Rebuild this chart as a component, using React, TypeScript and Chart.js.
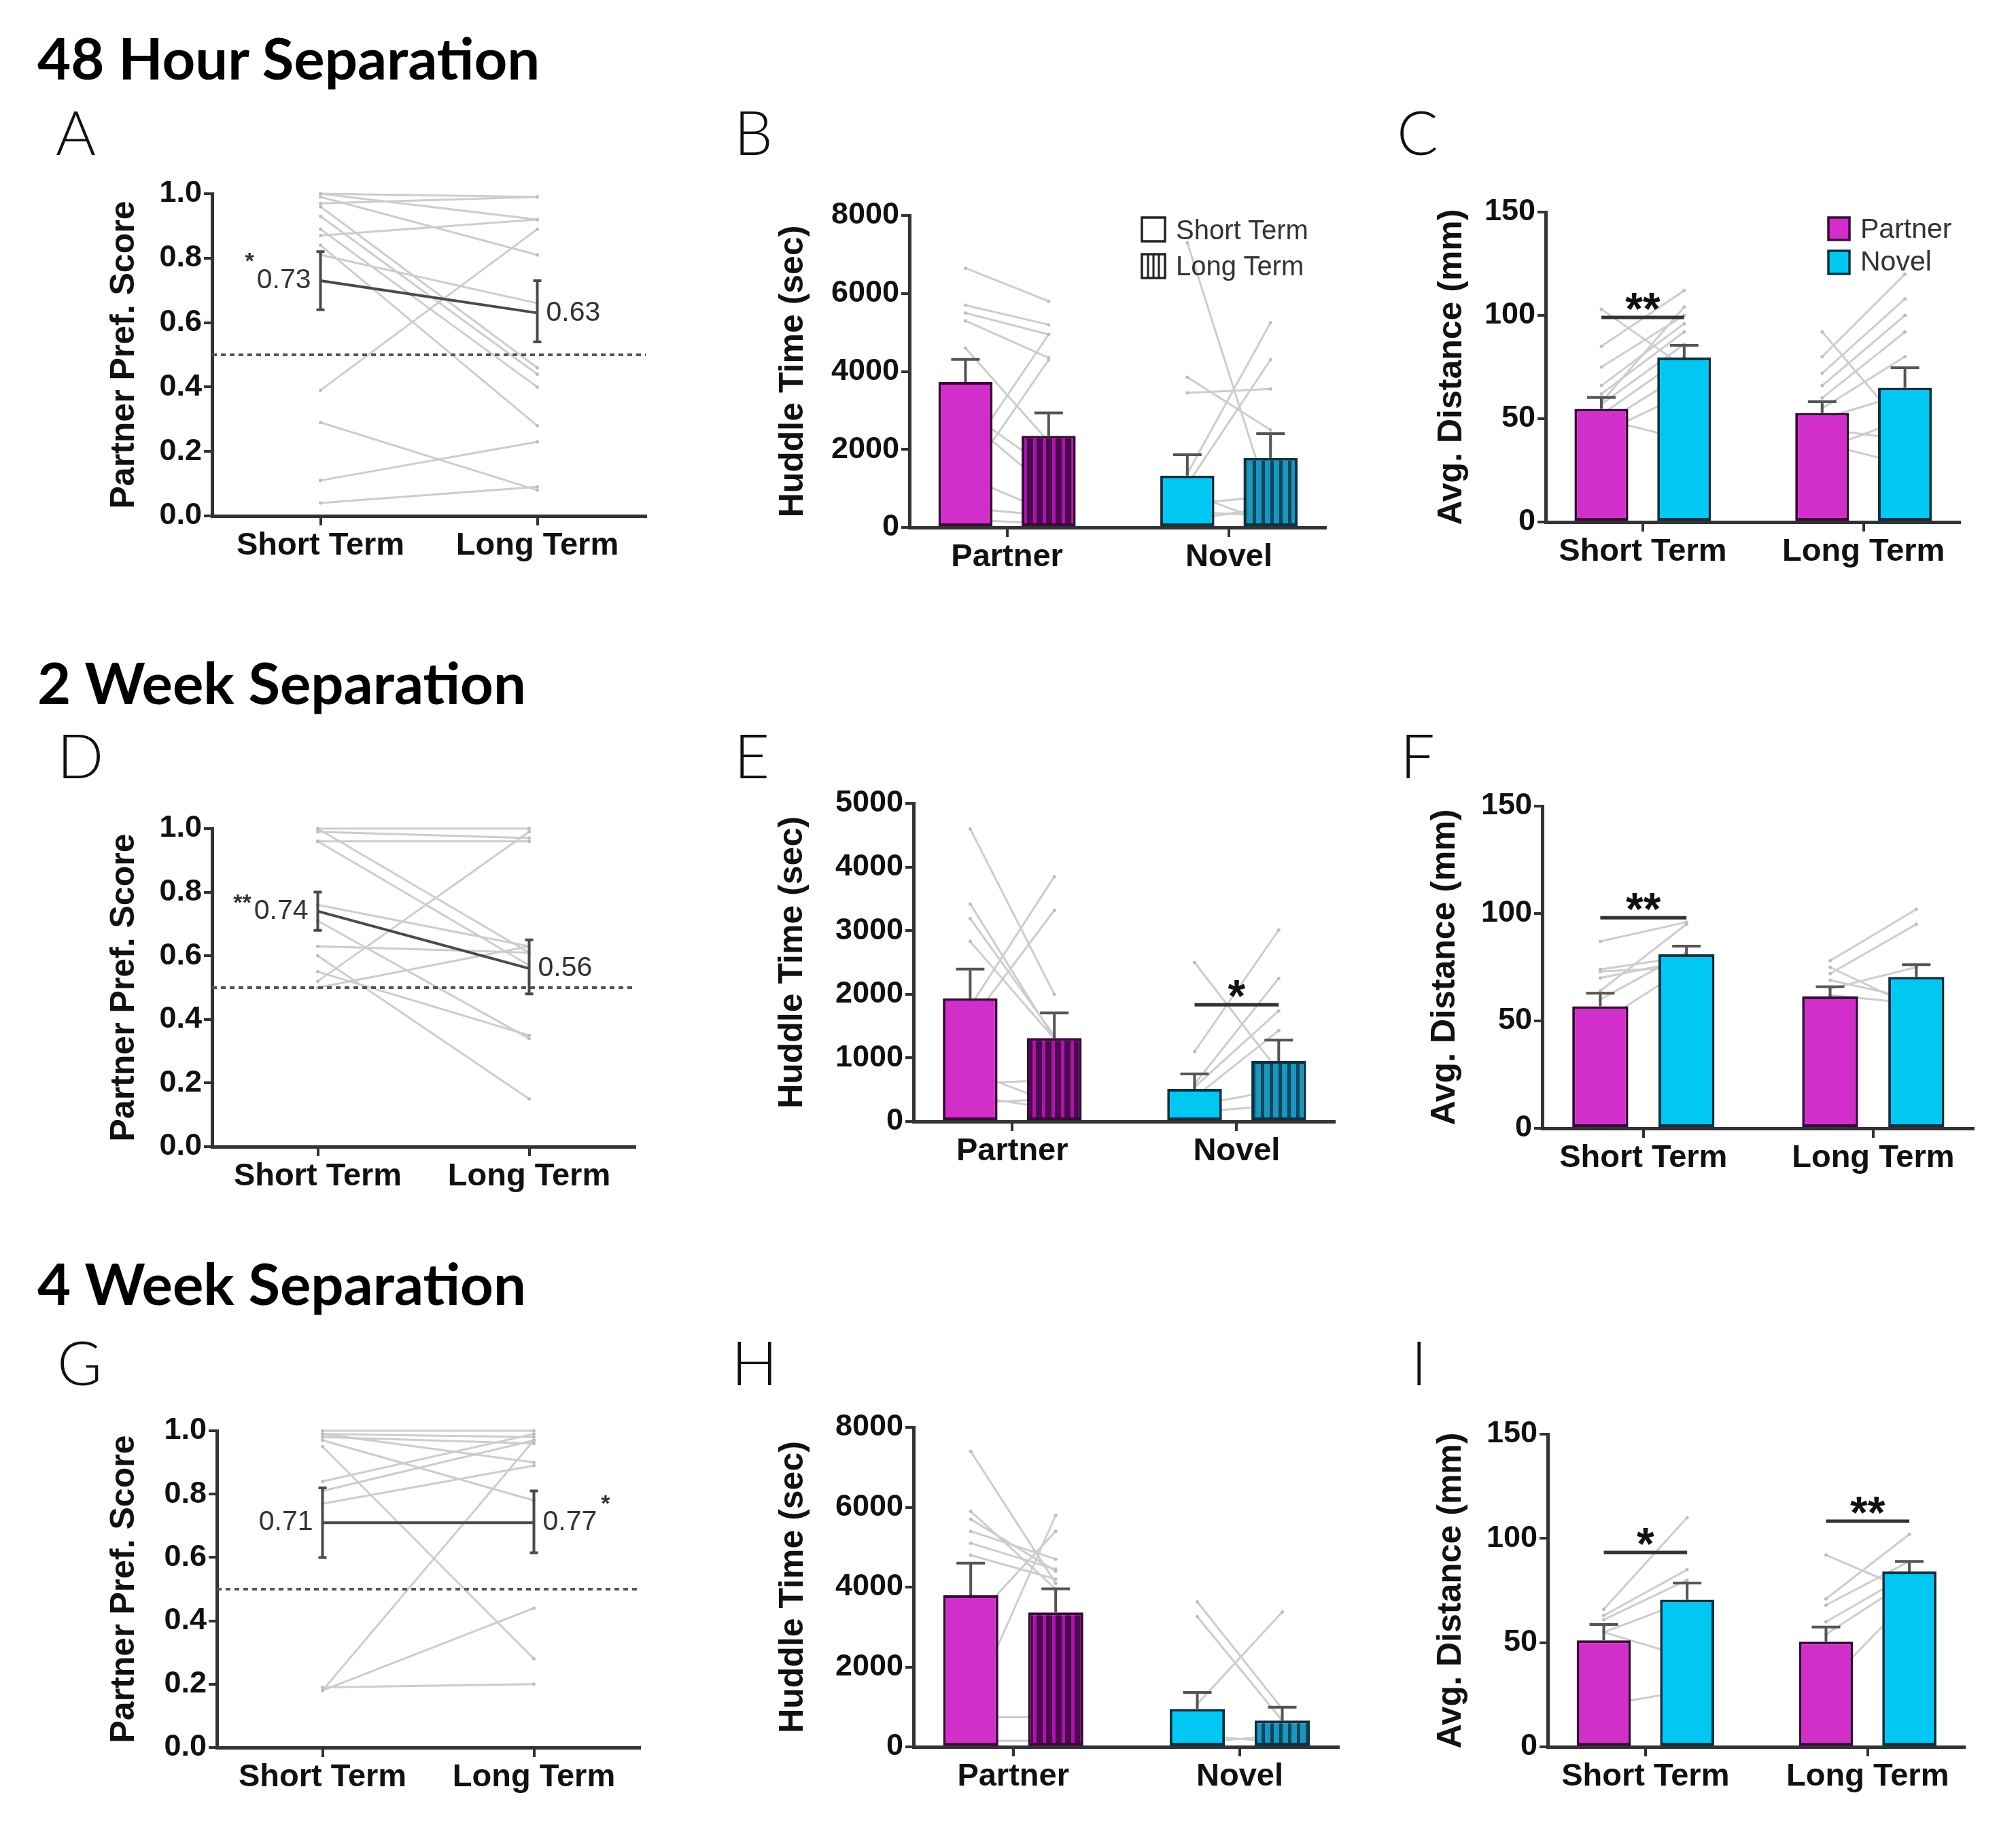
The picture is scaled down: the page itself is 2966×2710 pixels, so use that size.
import React, { useEffect, useRef } from 'react';
import { Chart, registerables } from 'chart.js';

Chart.register(...registerables);

// ---------------- text / categories ----------------
const sectionTitles = ['48 Hour Separation', '2 Week Separation', '4 Week Separation'];
const panelLetters = ['A', 'B', 'C', 'D', 'E', 'F', 'G', 'H', 'I'];
const termLabels = ['Short Term', 'Long Term'];
const stimLabels = ['Partner', 'Novel'];
const ppTitle = 'Partner Pref. Score';
const huddleTitle = 'Huddle Time (sec)';
const distTitle = 'Avg. Distance (mm)';

// ---------------- Panel A (48 h, partner preference) ----------------
const aShort = [1.0, 1.0, 0.99, 0.97, 0.93, 0.89, 0.87, 0.84, 0.81, 0.96, 0.39, 0.29, 0.11, 0.04];
const aLong = [0.99, 0.92, 0.81, 0.99, 0.44, 0.4, 0.92, 0.28, 0.66, 0.46, 0.89, 0.08, 0.23, 0.09];
const aMean = [0.73, 0.63];
const aLow = [0.64, 0.54];
const aHigh = [0.82, 0.73];
const aText = ['0.73', '0.63'];

// ---------------- Panel D (2 wk, partner preference) ----------------
const dShort = [1.0, 0.99, 0.96, 1.0, 0.96, 0.76, 0.71, 0.63, 0.6, 0.52, 0.5, 0.55];
const dLong = [1.0, 0.97, 0.96, 0.61, 0.57, 0.63, 0.34, 0.61, 0.15, 0.99, 0.63, 0.35];
const dMean = [0.74, 0.56];
const dLow = [0.68, 0.48];
const dHigh = [0.8, 0.65];
const dText = ['0.74', '0.56'];

// ---------------- Panel G (4 wk, partner preference) ----------------
const gShort = [1.0, 0.99, 0.98, 0.97, 0.95, 0.99, 0.84, 0.81, 0.77, 0.18, 0.18, 0.19];
const gLong = [1.0, 0.98, 0.96, 0.78, 0.28, 0.9, 0.99, 0.97, 0.89, 0.97, 0.44, 0.2];
const gMean = [0.71, 0.71];
const gLow = [0.6, 0.615];
const gHigh = [0.82, 0.81];
const gText = ['0.71', '0.77'];

// ---------------- Panel B (48 h huddle) : [Partner, Novel] ----------------
const bShortMean = [3730, 1330];
const bLongMean = [2350, 1780];
const bShortTop = [4310, 1865];
const bLongTop = [2935, 2405];
const bPartnerShort = [6650, 5700, 5500, 5300, 4600, 1800, 1200, 2800, 1300, 500, 3000, 200];
const bPartnerLong = [5800, 5200, 4950, 4350, 2200, 4950, 4300, 1000, 400, 300, 1500, 100];
const bNovelShort = [7300, 3850, 3450, 1380, 1100, 600, 400, 200, 900];
const bNovelLong = [600, 2500, 3550, 5250, 4300, 800, 300, 500, 100];

// ---------------- Panel C (48 h distance) : [Short, Long] ----------------
const cPartnerMean = [54.8, 52.8];
const cNovelMean = [79.6, 65.0];
const cPartnerTop = [60.3, 58.2];
const cNovelTop = [85.5, 74.7];
const cShortPartner = [103, 85, 75, 66, 62, 57, 52, 47, 43, 50, 58];
const cShortNovel = [75, 112, 100, 96, 92, 86, 80, 72, 62, 40, 104];
const cLongPartner = [92, 80, 72, 66, 60, 55, 50, 45, 38, 35];
const cLongNovel = [45, 120, 108, 100, 92, 80, 62, 40, 28, 50];

// ---------------- Panel E (2 wk huddle) ----------------
const eShortMean = [1937, 512];
const eLongMean = [1312, 950];
const eShortTop = [2395, 747];
const eLongTop = [1707, 1280];
const ePartnerShort = [4600, 3420, 3190, 2830, 1810, 1560, 790, 600, 400, 300];
const ePartnerLong = [2000, 1300, 1350, 1300, 3850, 3320, 280, 650, 200, 350];
const eNovelShort = [2500, 1100, 590, 540, 380, 250, 150];
const eNovelLong = [790, 3010, 2250, 1740, 1430, 500, 250];

// ---------------- Panel F (2 wk distance) ----------------
const fPartnerMean = [56.8, 61.4];
const fNovelMean = [81.0, 70.5];
const fPartnerTop = [62.9, 65.9];
const fNovelTop = [84.8, 76.2];
const fShortPartner = [87, 74, 73, 70, 64, 60, 49];
const fShortNovel = [96, 80, 75, 78, 95, 82, 75];
const fLongPartner = [78, 72, 69, 65, 62, 75];
const fLongNovel = [102, 95, 60, 75, 58, 56];

// ---------------- Panel H (4 wk huddle) ----------------
const hShortMean = [3794, 948];
const hLongMean = [3365, 660];
const hShortTop = [4602, 1361];
const hLongTop = [3959, 990];
const hPartnerShort = [7400, 5900, 5700, 5400, 5100, 4800, 1000, 3100, 740, 150];
const hPartnerLong = [4100, 3950, 4400, 4700, 4450, 4200, 5800, 5400, 740, 150];
const hNovelShort = [3630, 3260, 1070, 300, 100];
const hNovelLong = [950, 660, 3380, 100, 300];

// ---------------- Panel I (4 wk distance) ----------------
const iPartnerMean = [51.1, 50.5];
const iNovelMean = [70.6, 84.1];
const iPartnerTop = [58.7, 57.5];
const iNovelTop = [78.6, 88.9];
const iShortPartner = [66, 63, 61, 55, 55, 20];
const iShortNovel = [110, 85, 80, 70, 43, 27];
const iLongPartner = [92, 71, 68, 60, 54, 30];
const iLongNovel = [75, 102, 89, 83, 80, 71];

// significance: [group index, bar height value, marker]
const cSig = [{ g: 0, y: 99, text: '**' }];
const eSig = [{ g: 1, y: 1835, text: '*' }];
const fSig = [{ g: 0, y: 98, text: '**' }];
const iSig = [{ g: 0, y: 93.3, text: '*' }, { g: 1, y: 108.3, text: '**' }];

// ---------------- styles ----------------
const AX_FONT = "'Liberation Sans', Arial, Helvetica, sans-serif";
const HEAD_FONT = "Lato, 'Open Sans', sans-serif";
const MAGENTA = '#d22fca';
const MAGENTA_EDGE = '#3a0838';
const CYAN = '#00c8f2';
const CYAN_EDGE = '#0a3244';
const PURPLE_BASE = '#4e0752';
const PURPLE_STRIPE = '#a817a6';
const TEAL_BASE = '#1d95bd';
const TEAL_STRIPE = '#0c4660';
const GRAY_LINE = '#cdcdcd';
const GRAY_DOT = '#bdbdbd';
const AXIS = '#333333';
const INK = '#111111';

const GROUP_X = [1, 3];
const CAT_PCT = 0.75;
const BAR_PCT = 0.65;
const HALF = CAT_PCT / 2;
const BAR_XMIN = 0.12;
const BAR_XMAX = 3.87;

type Lay = { l: number; t: number; r: number; b: number; ytc: number };
const LAYOUT: Record<string, Lay> = {
  A: { l: 312, t: 285, r: 950, b: 759, ytc: 183 },
  B: { l: 1338, t: 317, r: 1950, b: 776, ytc: 1167 },
  C: { l: 2274, t: 312, r: 2883, b: 768, ytc: 2136 },
  D: { l: 312, t: 1219, r: 934, b: 1687, ytc: 183 },
  E: { l: 1344, t: 1182, r: 1963, b: 1650, ytc: 1166 },
  F: { l: 2269, t: 1186, r: 2903, b: 1660, ytc: 2126 },
  G: { l: 319, t: 2105, r: 941, b: 2571, ytc: 183 },
  H: { l: 1344, t: 2100, r: 1969, b: 2570, ytc: 1167 },
  I: { l: 2277, t: 2110, r: 2890, b: 2570, ytc: 2135 },
};
const TITLE_POS = [
  { x: 55, y: 117 },
  { x: 55, y: 1036 },
  { x: 55, y: 1920 },
];
const LETTER_POS = [
  { x: 82, y: 228 }, { x: 1080, y: 228 }, { x: 2055, y: 228 },
  { x: 84, y: 1145 }, { x: 1080, y: 1145 }, { x: 2060, y: 1145 },
  { x: 84, y: 2038 }, { x: 1076, y: 2038 }, { x: 2076, y: 2038 },
];

function geom(lay: Lay) {
  const left = lay.ytc - 30;
  const top = lay.t - 40;
  return { left, top, w: lay.r + 45 - left, h: lay.b + 110 - top, yW: lay.l - left };
}

function stripePattern(base: string, stripe: string, period: number, sw: number) {
  const c = document.createElement('canvas');
  c.width = period;
  c.height = 8;
  const g = c.getContext('2d') as CanvasRenderingContext2D;
  g.fillStyle = base;
  g.fillRect(0, 0, period, 8);
  g.fillStyle = stripe;
  g.fillRect(Math.round(period / 2 - sw / 2), 0, sw, 8);
  return g.createPattern(c, 'repeat');
}

const annotPlugin = {
  id: 'annot',
  afterDatasetsDraw(chart: any, _args: any, o: any) {
    const ctx = chart.ctx;
    const xs = chart.scales.x;
    const ys = chart.scales.y;
    ctx.save();
    for (const e of o.errors || []) {
      const px = xs.getPixelForValue(e.x);
      const p1 = ys.getPixelForValue(e.lo);
      const p2 = ys.getPixelForValue(e.hi);
      ctx.strokeStyle = e.color || '#555';
      ctx.lineWidth = 4;
      ctx.beginPath();
      ctx.moveTo(px, p1);
      ctx.lineTo(px, p2);
      ctx.moveTo(px - e.cap, p2);
      ctx.lineTo(px + e.cap, p2);
      if (e.capLo) {
        ctx.moveTo(px - e.cap, p1);
        ctx.lineTo(px + e.cap, p1);
      }
      ctx.stroke();
    }
    for (const s of o.sigs || []) {
      const x1 = xs.getPixelForValue(s.x1);
      const x2 = xs.getPixelForValue(s.x2);
      const py = ys.getPixelForValue(s.y);
      ctx.strokeStyle = AXIS;
      ctx.lineWidth = 5;
      ctx.beginPath();
      ctx.moveTo(x1, py);
      ctx.lineTo(x2, py);
      ctx.stroke();
      ctx.font = `bold 66px ${AX_FONT}`;
      ctx.fillStyle = INK;
      ctx.textAlign = 'center';
      ctx.textBaseline = 'alphabetic';
      ctx.fillText(s.text, (x1 + x2) / 2, py + 10);
    }
    for (const t of o.labels || []) {
      const px = xs.getPixelForValue(t.x) + t.dx;
      const py = ys.getPixelForValue(t.y);
      ctx.font = `41px ${AX_FONT}`;
      ctx.fillStyle = '#333';
      ctx.textAlign = t.align;
      ctx.textBaseline = 'middle';
      ctx.fillText(t.text, px, py);
      if (t.star) {
        const w = ctx.measureText(t.text).width;
        ctx.font = `bold 34px ${AX_FONT}`;
        ctx.textBaseline = 'alphabetic';
        if (t.starBefore) {
          ctx.textAlign = 'right';
          ctx.fillText(t.star, t.align === 'right' ? px - w - 4 : px - 4, py + t.starDy);
        } else {
          ctx.textAlign = 'left';
          ctx.fillText(t.star, t.align === 'left' ? px + w + 6 : px + 6, py + t.starDy);
        }
      }
    }
    ctx.restore();
  },
};

function makeScales(lay: Lay, xMin: number, xMax: number, xLabels: string[], yMax: number, yStep: number, yDec: number, yTitle: string) {
  const g = geom(lay);
  return {
    x: {
      type: 'linear',
      min: xMin,
      max: xMax,
      bounds: 'data',
      offset: false,
      afterBuildTicks: (s: any) => {
        s.ticks = GROUP_X.map((v) => ({ value: v }));
      },
      afterFit: (s: any) => {
        s.height = 110;
      },
      ticks: {
        autoSkip: false,
        maxRotation: 0,
        minRotation: 0,
        padding: 2,
        color: INK,
        font: { family: AX_FONT, weight: 'bold', size: 47 },
        callback: (_v: any, i: number) => xLabels[i],
      },
      grid: { display: true, drawOnChartArea: false, drawTicks: true, tickLength: 14, color: AXIS, lineWidth: 4, offset: false },
      border: { display: true, color: AXIS, width: 5 },
    },
    y: {
      type: 'linear',
      min: 0,
      max: yMax,
      bounds: 'data',
      afterFit: (s: any) => {
        s.width = g.yW;
      },
      ticks: {
        stepSize: yStep,
        padding: 3,
        color: INK,
        font: { family: AX_FONT, weight: 'bold', size: 45 },
        callback: (v: any) => Number(v).toFixed(yDec),
      },
      grid: { display: true, drawOnChartArea: false, drawTicks: true, tickLength: 12, color: AXIS, lineWidth: 4 },
      border: { display: true, color: AXIS, width: 5 },
      title: { display: true, text: yTitle, color: INK, padding: 0, font: { family: AX_FONT, weight: 'bold', size: 50 } },
    },
  };
}

function baseOptions(lay: Lay, scales: any, annot: any) {
  return {
    responsive: false,
    maintainAspectRatio: false,
    devicePixelRatio: 1,
    animation: false,
    layout: { padding: { left: 0, top: 40, right: 45, bottom: 0 } },
    scales,
    plugins: { legend: { display: false }, tooltip: { enabled: false }, annot },
  };
}

function linePanel(lay: Lay, short: number[], long: number[], mean: number[], low: number[], high: number[], text: string[], star: any) {
  const datasets: any[] = [
    {
      type: 'line',
      data: GROUP_X.map((x, i) => ({ x, y: mean[i] })),
      borderColor: '#4a4a4a',
      borderWidth: 4,
      pointRadius: 0,
      order: 0,
    },
    {
      type: 'line',
      data: [{ x: 0, y: 0.5 }, { x: 4, y: 0.5 }],
      borderColor: '#555',
      borderWidth: 4,
      borderDash: [7, 6],
      pointRadius: 0,
      order: 1,
    },
  ];
  short.forEach((s, k) =>
    datasets.push({
      type: 'line',
      data: [{ x: GROUP_X[0], y: s }, { x: GROUP_X[1], y: long[k] }],
      borderColor: GRAY_LINE,
      borderWidth: 3,
      pointRadius: 2.5,
      pointBackgroundColor: GRAY_DOT,
      pointBorderWidth: 0,
      order: 2,
      clip: 20,
    })
  );
  const errors = GROUP_X.map((x, i) => ({ x, lo: low[i], hi: high[i], cap: 6, capLo: true, color: '#4a4a4a' }));
  const labels = [
    { x: GROUP_X[0], y: mean[0], text: text[0], align: 'right', dx: -14, ...(star.side === 0 ? star : {}) },
    { x: GROUP_X[1], y: mean[1], text: text[1], align: 'left', dx: 13, ...(star.side === 1 ? star : {}) },
  ];
  return {
    type: 'line',
    data: { datasets },
    options: baseOptions(lay, makeScales(lay, 0, 4, termLabels, 1, 0.2, 1, ppTitle), { errors, labels }),
    plugins: [annotPlugin],
  };
}

function barPanel(p: any) {
  const { lay, xLabels, yMax, yStep, yTitle, s1, s2, pairs, sigs } = p;
  const barDs = (s: any) => ({
    type: 'bar',
    data: GROUP_X.map((x, i) => ({ x, y: s.mean[i] })),
    backgroundColor: s.fill,
    borderColor: s.edge,
    borderWidth: 4,
    borderSkipped: false,
    categoryPercentage: CAT_PCT,
    barPercentage: BAR_PCT,
    order: 0,
  });
  const datasets: any[] = [barDs(s1), barDs(s2)];
  pairs.forEach((pr: number[][], gi: number) => {
    pr[0].forEach((v: number, k: number) =>
      datasets.push({
        type: 'line',
        data: [{ x: GROUP_X[gi] - HALF, y: v }, { x: GROUP_X[gi] + HALF, y: pr[1][k] }],
        borderColor: GRAY_LINE,
        borderWidth: 3,
        pointRadius: 2.5,
        pointBackgroundColor: GRAY_DOT,
        pointBorderWidth: 0,
        order: 1,
        clip: 20,
      })
    );
  });
  const errors: any[] = [];
  GROUP_X.forEach((x, i) => {
    errors.push({ x: x - HALF, lo: s1.mean[i], hi: s1.top[i], cap: 21 });
    errors.push({ x: x + HALF, lo: s2.mean[i], hi: s2.top[i], cap: 21 });
  });
  const sg = (sigs || []).map((s: any) => ({ x1: GROUP_X[s.g] - HALF, x2: GROUP_X[s.g] + HALF, y: s.y, text: s.text }));
  return {
    type: 'bar',
    data: { datasets },
    options: baseOptions(lay, makeScales(lay, BAR_XMIN, BAR_XMAX, xLabels, yMax, yStep, 0, yTitle), { errors, sigs: sg }),
    plugins: [annotPlugin],
  };
}

function huddle(lay: Lay, sMean: number[], lMean: number[], sTop: number[], lTop: number[], pS: number[], pL: number[], nS: number[], nL: number[], yMax: number, yStep: number, sigs: any[]) {
  return () => {
    const purple = stripePattern(PURPLE_BASE, PURPLE_STRIPE, 14, 5);
    const teal = stripePattern(TEAL_BASE, TEAL_STRIPE, 13, 5);
    return barPanel({
      lay,
      xLabels: stimLabels,
      yMax,
      yStep,
      yTitle: huddleTitle,
      s1: { mean: sMean, top: sTop, fill: [MAGENTA, CYAN], edge: [MAGENTA_EDGE, CYAN_EDGE] },
      s2: { mean: lMean, top: lTop, fill: [purple, teal], edge: [MAGENTA_EDGE, CYAN_EDGE] },
      pairs: [[pS, pL], [nS, nL]],
      sigs,
    });
  };
}

function distance(lay: Lay, pMean: number[], nMean: number[], pTop: number[], nTop: number[], sP: number[], sN: number[], lP: number[], lN: number[], sigs: any[]) {
  return () =>
    barPanel({
      lay,
      xLabels: termLabels,
      yMax: 150,
      yStep: 50,
      yTitle: distTitle,
      s1: { mean: pMean, top: pTop, fill: MAGENTA, edge: MAGENTA_EDGE },
      s2: { mean: nMean, top: nTop, fill: CYAN, edge: CYAN_EDGE },
      pairs: [[sP, sN], [lP, lN]],
      sigs,
    });
}

function ChartPanel({ lay, build }: { lay: Lay; build: () => any }) {
  const ref = useRef<HTMLCanvasElement>(null);
  const g = geom(lay);
  useEffect(() => {
    const chart = new Chart(ref.current as HTMLCanvasElement, build());
    return () => chart.destroy();
  }, []);
  return (
    <canvas
      ref={ref}
      width={g.w}
      height={g.h}
      style={{ position: 'absolute', left: g.left, top: g.top, width: g.w, height: g.h }}
    />
  );
}

const panels: { key: string; build: () => any }[] = [
  { key: 'A', build: () => linePanel(LAYOUT.A, aShort, aLong, aMean, aLow, aHigh, aText, { side: 0, star: '*', starBefore: true, starDy: -18 }) },
  { key: 'B', build: huddle(LAYOUT.B, bShortMean, bLongMean, bShortTop, bLongTop, bPartnerShort, bPartnerLong, bNovelShort, bNovelLong, 8000, 2000, []) },
  { key: 'C', build: distance(LAYOUT.C, cPartnerMean, cNovelMean, cPartnerTop, cNovelTop, cShortPartner, cShortNovel, cLongPartner, cLongNovel, cSig) },
  { key: 'D', build: () => linePanel(LAYOUT.D, dShort, dLong, dMean, dLow, dHigh, dText, { side: 0, star: '**', starBefore: true, starDy: -2 }) },
  { key: 'E', build: huddle(LAYOUT.E, eShortMean, eLongMean, eShortTop, eLongTop, ePartnerShort, ePartnerLong, eNovelShort, eNovelLong, 5000, 1000, eSig) },
  { key: 'F', build: distance(LAYOUT.F, fPartnerMean, fNovelMean, fPartnerTop, fNovelTop, fShortPartner, fShortNovel, fLongPartner, fLongNovel, fSig) },
  { key: 'G', build: () => linePanel(LAYOUT.G, gShort, gLong, gMean, gLow, gHigh, gText, { side: 1, star: '*', starBefore: false, starDy: -17 }) },
  { key: 'H', build: huddle(LAYOUT.H, hShortMean, hLongMean, hShortTop, hLongTop, hPartnerShort, hPartnerLong, hNovelShort, hNovelLong, 8000, 2000, []) },
  { key: 'I', build: distance(LAYOUT.I, iPartnerMean, iNovelMean, iPartnerTop, iNovelTop, iShortPartner, iShortNovel, iLongPartner, iLongNovel, iSig) },
];

function Legends() {
  return (
    <g fontFamily={AX_FONT} fontSize={40} fill="#333">
      {/* B legend: term */}
      <rect x={1680} y={320} width={34} height={35} fill="#fff" stroke="#222" strokeWidth={3.5} />
      <text x={1730} y={352}>{termLabels[0]}</text>
      <rect x={1680} y={374} width={34} height={35} fill="#fff" stroke="#222" strokeWidth={3.5} />
      <line x1={1689} y1={374} x2={1689} y2={409} stroke="#222" strokeWidth={3} />
      <line x1={1697} y1={374} x2={1697} y2={409} stroke="#222" strokeWidth={3} />
      <line x1={1705} y1={374} x2={1705} y2={409} stroke="#222" strokeWidth={3} />
      <text x={1730} y={405}>{termLabels[1]}</text>
      {/* C legend: stimulus */}
      <rect x={2690} y={320} width={31} height={33} fill={MAGENTA} stroke={MAGENTA_EDGE} strokeWidth={3.5} />
      <text x={2737} y={350} fontSize={41}>{stimLabels[0]}</text>
      <rect x={2690} y={369} width={31} height={34} fill={CYAN} stroke={CYAN_EDGE} strokeWidth={3.5} />
      <text x={2737} y={398} fontSize={41}>{stimLabels[1]}</text>
    </g>
  );
}

export default function App() {
  return (
    <div style={{ position: 'absolute', left: 0, top: 0, width: 2966, height: 2710, background: '#fff', overflow: 'hidden' }}>
      {panels.map((p) => (
        <ChartPanel key={p.key} lay={LAYOUT[p.key]} build={p.build} />
      ))}
      <svg width={2966} height={2710} style={{ position: 'absolute', left: 0, top: 0, pointerEvents: 'none' }}>
        {sectionTitles.map((t, i) => (
          <text key={t} x={TITLE_POS[i].x} y={TITLE_POS[i].y} fontFamily={HEAD_FONT} fontWeight={700} fontSize={85} fill="#000">
            {t}
          </text>
        ))}
        {panelLetters.map((t, i) => (
          <text key={t} x={LETTER_POS[i].x} y={LETTER_POS[i].y} fontFamily={HEAD_FONT} fontWeight={300} fontSize={90} fill="#111">
            {t}
          </text>
        ))}
        <Legends />
      </svg>
    </div>
  );
}
